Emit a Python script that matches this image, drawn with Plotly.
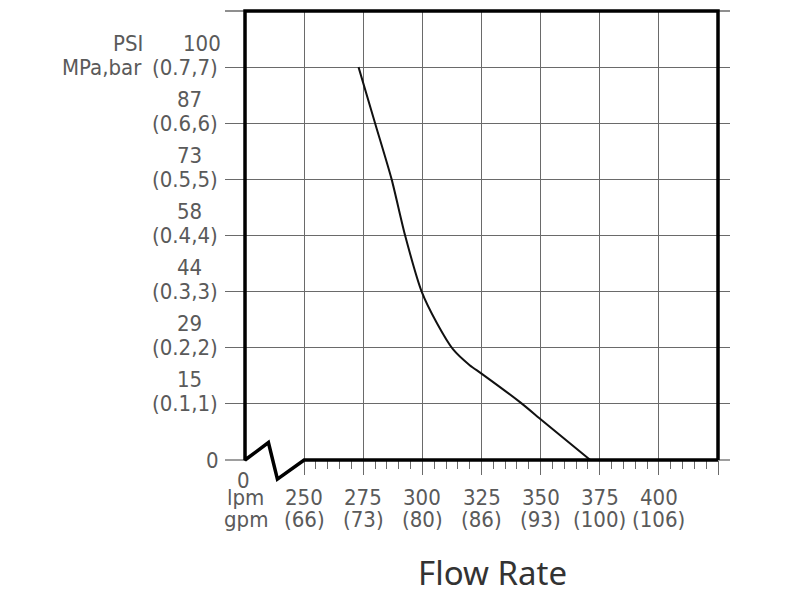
import plotly.graph_objects as go

# flow / pressure curve
flow_lpm = [273, 280, 287, 292.7, 299.7, 306, 313, 320, 325, 341, 350.5, 371]
pressure_mpa = [0.70, 0.60, 0.50, 0.40, 0.30, 0.245, 0.197, 0.169, 0.154, 0.104, 0.071, 0.0]

# axis labels
lpm_ticks = [250, 275, 300, 325, 350, 375, 400]
gpm_labels = ["(66)", "(73)", "(80)", "(86)", "(93)", "(100)", "(106)"]
mpa_ticks = [0.7, 0.6, 0.5, 0.4, 0.3, 0.2, 0.1]
psi_labels = ["100", "87", "73", "58", "44", "29", "15"]
bar_labels = ["(0.7,7)", "(0.6,6)", "(0.5,5)", "(0.4,4)", "(0.3,3)", "(0.2,2)", "(0.1,1)"]

# frame with axis break near the origin
frame_x = [425, 425, 225, 225, 234.9, 238.7, 250, 425]
frame_y = [0, 0.8, 0.8, 0, 0.031, -0.034, 0, 0]

x_range = [216.54, 430.07]
y_range = [0, 0.8]

# page layout (figure pixels)
W, H = 800, 600
plot_l, plot_r, plot_t, plot_b = 217, 722, 3, 452
over_t, over_b = 0, 490
ppu = (plot_b - plot_t) / (y_range[1] - y_range[0])
y2_range = [y_range[0] - (over_b - plot_b) / ppu, y_range[1] + (plot_t - over_t) / ppu]

lab_font = dict(family="DejaVu Sans Condensed, DejaVu Sans", size=22, color="#5a5a5a")
grid_col = "#6a6a6a"

fig = go.Figure()

fig.add_trace(go.Scatter(x=flow_lpm, y=pressure_mpa, mode="lines",
                         line=dict(color="#111", width=2, shape="spline", smoothing=0.7),
                         showlegend=False))

# frame + grid line stubs drawn on an overlay subplot so they are not clipped
fig.add_trace(go.Scatter(x=[x_range[0], 225, None, 425, x_range[1], None, x_range[0], x_range[1]],
                         y=[0, 0, None, 0, 0, None, 0.8, 0.8], mode="lines",
                         line=dict(color=grid_col, width=1.3), xaxis="x2", yaxis="y2",
                         showlegend=False, hoverinfo="skip"))
fig.add_trace(go.Scatter(x=frame_x, y=frame_y, mode="lines",
                         line=dict(color="black", width=3.5), xaxis="x2", yaxis="y2",
                         showlegend=False, hoverinfo="skip"))

ann = []
for i, (v, p, b) in enumerate(zip(mpa_ticks, psi_labels, bar_labels)):
    ann.append(dict(x=x_range[0], xref="x", y=v, yref="y", text=b, showarrow=False,
                    xanchor="right", yanchor="middle", xshift=-5, font=lab_font))
    ann.append(dict(x=x_range[0], xref="x", y=v, yref="y", text=p, showarrow=False,
                    xanchor="center", yanchor="middle", xshift=-23 if i == 0 else -36,
                    yshift=24, font=lab_font))
ann.append(dict(x=x_range[0], xref="x", y=0, yref="y", text="0", showarrow=False,
                xanchor="center", yanchor="middle", xshift=-13, font=lab_font))
ann.append(dict(x=x_range[0], xref="x", y=0.7, yref="y", text="PSI", showarrow=False,
                xanchor="right", yanchor="middle", xshift=-80, yshift=24, font=lab_font))
ann.append(dict(x=x_range[0], xref="x", y=0.7, yref="y", text="MPa,bar", showarrow=False,
                xanchor="right", yanchor="middle", xshift=-81, font=lab_font))

for v, g in zip(lpm_ticks, gpm_labels):
    ann.append(dict(x=v, xref="x", y=0, yref="y", text=str(v), showarrow=False,
                    xanchor="center", yanchor="middle", yshift=-37, font=lab_font))
    ann.append(dict(x=v, xref="x", y=0, yref="y", text=g, showarrow=False,
                    xanchor="center", yanchor="middle", yshift=-59, font=lab_font))
ann.append(dict(x=225, xref="x", y=0, yref="y", text="0", showarrow=False,
                xanchor="center", yanchor="middle", yshift=-20, xshift=-2, font=lab_font))
ann.append(dict(x=225, xref="x", y=0, yref="y", text="lpm", showarrow=False,
                xanchor="center", yanchor="middle", yshift=-37, font=lab_font))
ann.append(dict(x=225, xref="x", y=0, yref="y", text="gpm", showarrow=False,
                xanchor="center", yanchor="middle", yshift=-59, xshift=1, font=lab_font))
ann.append(dict(x=0.605, xref="paper", y=0.06, yref="paper", text="Flow Rate",
                showarrow=False, xanchor="center", yanchor="middle",
                font=dict(family="Noto Sans", size=33, color="#333")))

fig.update_layout(
    width=W, height=H,
    margin=dict(l=0, r=0, t=0, b=0),
    plot_bgcolor="rgba(0,0,0,0)", paper_bgcolor="white",
    annotations=ann,
    showlegend=False,
    xaxis=dict(
        domain=[plot_l / W, plot_r / W], anchor="y",
        range=x_range,
        tickvals=lpm_ticks + [425],
        showticklabels=False,
        ticks="outside", ticklen=14, tickwidth=1.3, tickcolor=grid_col,
        minor=dict(tickvals=[x for x in range(255, 425, 5) if x % 25 != 0],
                   ticks="outside", ticklen=8, tickwidth=1.3, tickcolor=grid_col,
                   showgrid=False),
        showgrid=True, gridcolor=grid_col, gridwidth=1.3,
        showline=False, zeroline=False,
    ),
    yaxis=dict(
        domain=[1 - plot_b / H, 1 - plot_t / H], anchor="x",
        range=y_range,
        tickvals=mpa_ticks,
        showticklabels=False, ticks="",
        showgrid=True, gridcolor=grid_col, gridwidth=1.3,
        showline=False, zeroline=False,
    ),
    xaxis2=dict(domain=[plot_l / W, plot_r / W], anchor="y2", range=x_range,
                visible=False),
    yaxis2=dict(domain=[1 - over_b / H, 1 - over_t / H], anchor="x2", range=y2_range,
                visible=False),
)

fig.write_html("out.html")
